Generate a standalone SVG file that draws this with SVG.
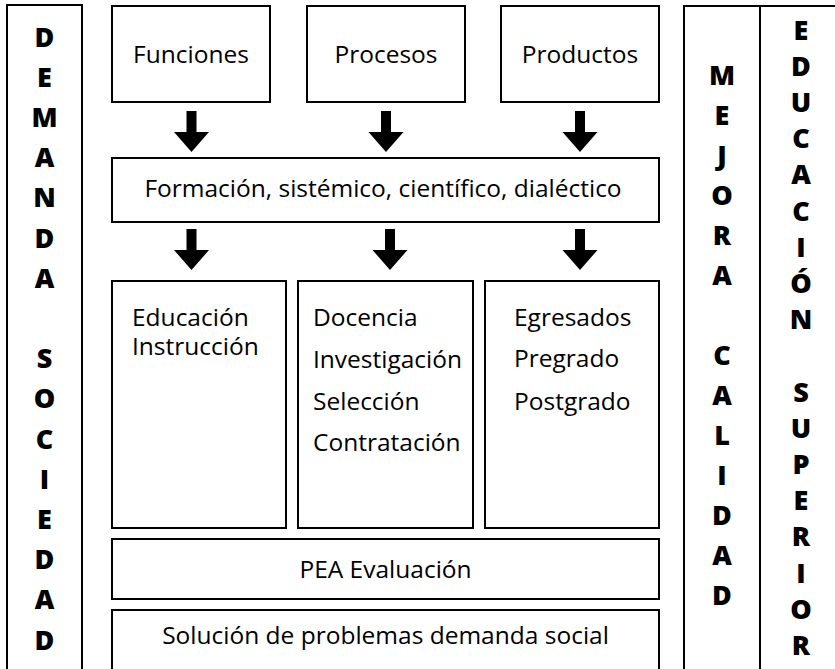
<svg xmlns="http://www.w3.org/2000/svg" xmlns:xlink="http://www.w3.org/1999/xlink" width="835" height="669" viewBox="0 0 835 669">
<style>
.box{fill:#fff;stroke:#000;stroke-width:2}
.t{font-family:"Open Sans","Noto Sans","Liberation Sans",sans-serif;font-size:24.5px;fill:#000}
.c{text-anchor:middle}
.v{font-family:"Open Sans","Noto Sans","Liberation Sans",sans-serif;font-size:27px;font-weight:800;fill:#000;text-anchor:middle}
</style>
<defs>
<path id="arr" d="M-5,0 H5 V21 H17.5 L0,41 L-17.5,21 H-5 Z" fill="#000"/>
</defs>
<rect width="835" height="669" fill="#fff"/>
<g id="demanda">
<rect class="box" x="7" y="5" width="75" height="700"/>
<text class="v"><tspan x="44.5" y="46.5">D</tspan><tspan x="44.5" y="86.7">E</tspan><tspan x="44.5" y="126.9">M</tspan><tspan x="44.5" y="167.1">A</tspan><tspan x="44.5" y="207.3">N</tspan><tspan x="44.5" y="247.5">D</tspan><tspan x="44.5" y="287.7">A</tspan><tspan x="44.5" y="368.1">S</tspan><tspan x="44.5" y="408.3">O</tspan><tspan x="44.5" y="448.5">C</tspan><tspan x="44.5" y="488.7">I</tspan><tspan x="44.5" y="528.9">E</tspan><tspan x="44.5" y="569.1">D</tspan><tspan x="44.5" y="609.3">A</tspan><tspan x="44.5" y="649.5">D</tspan></text>
</g>
<g id="mejora">
<rect class="box" x="684" y="6" width="76" height="700"/>
<text class="v"><tspan x="722" y="84.5">M</tspan><tspan x="722" y="124.5">E</tspan><tspan x="722" y="164.5">J</tspan><tspan x="722" y="204.5">O</tspan><tspan x="722" y="244.5">R</tspan><tspan x="722" y="284.5">A</tspan><tspan x="722" y="364.5">C</tspan><tspan x="722" y="404.5">A</tspan><tspan x="722" y="444.5">L</tspan><tspan x="722" y="484.5">I</tspan><tspan x="722" y="524.5">D</tspan><tspan x="722" y="564.5">A</tspan><tspan x="722" y="604.5">D</tspan></text>
</g>
<g id="educacion">
<rect class="box" x="760" y="6" width="100" height="700"/>
<text class="v"><tspan x="801" y="39.5">E</tspan><tspan x="801" y="75.7">D</tspan><tspan x="801" y="111.9">U</tspan><tspan x="801" y="148.1">C</tspan><tspan x="801" y="184.3">A</tspan><tspan x="801" y="220.5">C</tspan><tspan x="801" y="256.7">I</tspan><tspan x="801" y="292.9">Ó</tspan><tspan x="801" y="329.1">N</tspan><tspan x="801" y="401.5">S</tspan><tspan x="801" y="437.7">U</tspan><tspan x="801" y="473.9">P</tspan><tspan x="801" y="510.1">E</tspan><tspan x="801" y="546.3">R</tspan><tspan x="801" y="582.5">I</tspan><tspan x="801" y="618.7">O</tspan><tspan x="801" y="654.9">R</tspan></text>
</g>
<g id="funciones">
<rect class="box" x="112" y="6" width="158" height="96"/>
<text class="t c" x="191" y="63">Funciones</text>
</g>
<g id="procesos">
<rect class="box" x="307" y="6" width="158" height="96"/>
<text class="t c" x="386" y="63">Procesos</text>
</g>
<g id="productos">
<rect class="box" x="501" y="6" width="158" height="96"/>
<text class="t c" x="580" y="63">Productos</text>
</g>
<g id="formacion">
<rect class="box" x="112" y="158" width="547" height="64"/>
<text class="t c" x="383" y="197">Formación, sistémico, científico, dialéctico</text>
</g>
<g id="educacion-instruccion">
<rect class="box" x="112" y="281" width="174" height="247"/>
<text class="t"><tspan x="132" y="326">Educación</tspan><tspan x="132" y="355">Instrucción</tspan></text>
</g>
<g id="docencia">
<rect class="box" x="298" y="281" width="175" height="247"/>
<text class="t"><tspan x="313" y="326">Docencia</tspan><tspan x="313" y="368">Investigación</tspan><tspan x="313" y="410">Selección</tspan><tspan x="313" y="451">Contratación</tspan></text>
</g>
<g id="egresados">
<rect class="box" x="485" y="281" width="174" height="247"/>
<text class="t"><tspan x="514" y="326">Egresados</tspan><tspan x="514" y="367">Pregrado</tspan><tspan x="514" y="410">Postgrado</tspan></text>
</g>
<g id="pea">
<rect class="box" x="112" y="539" width="547" height="60"/>
<text class="t c" x="385.5" y="578">PEA Evaluación</text>
</g>
<g id="solucion">
<rect class="box" x="112" y="610" width="547" height="100"/>
<text class="t c" x="385.5" y="644">Solución de problemas demanda social</text>
</g>
<g id="connectors">
<use xlink:href="#arr" href="#arr" transform="translate(191.5,111)"/>
<use xlink:href="#arr" href="#arr" transform="translate(386,111)"/>
<use xlink:href="#arr" href="#arr" transform="translate(580,111)"/>
<use xlink:href="#arr" href="#arr" transform="translate(191.5,229)"/>
<use xlink:href="#arr" href="#arr" transform="translate(390,229)"/>
<use xlink:href="#arr" href="#arr" transform="translate(580,229)"/>
</g>
</svg>
